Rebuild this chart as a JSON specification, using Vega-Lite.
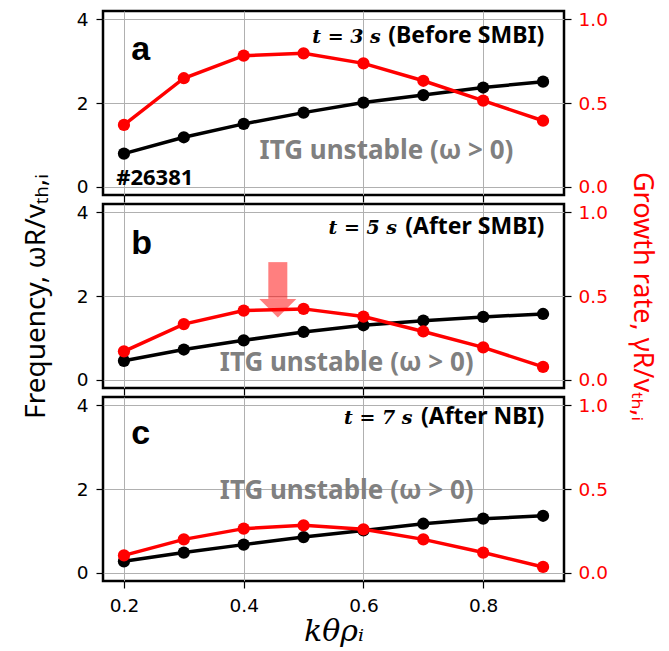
{
  "$schema": "https://vega.github.io/schema/vega-lite/v6.json",
  "padding": {"left": 20, "top": 9, "right": 5, "bottom": 5},
  "spacing": 9,
  "bounds": "flush",
  "datasets": {
    "lines": [
      {"panel": "a", "k": 0.2, "freq": 0.79, "growth": 0.369},
      {"panel": "a", "k": 0.3, "freq": 1.18, "growth": 0.648},
      {"panel": "a", "k": 0.4, "freq": 1.50, "growth": 0.783},
      {"panel": "a", "k": 0.5, "freq": 1.77, "growth": 0.797},
      {"panel": "a", "k": 0.6, "freq": 2.01, "growth": 0.737},
      {"panel": "a", "k": 0.7, "freq": 2.19, "growth": 0.633},
      {"panel": "a", "k": 0.8, "freq": 2.37, "growth": 0.514},
      {"panel": "a", "k": 0.9, "freq": 2.51, "growth": 0.394},
      {"panel": "b", "k": 0.2, "freq": 0.45, "growth": 0.169},
      {"panel": "b", "k": 0.3, "freq": 0.72, "growth": 0.332},
      {"panel": "b", "k": 0.4, "freq": 0.94, "growth": 0.413},
      {"panel": "b", "k": 0.5, "freq": 1.14, "growth": 0.423},
      {"panel": "b", "k": 0.6, "freq": 1.30, "growth": 0.377},
      {"panel": "b", "k": 0.7, "freq": 1.41, "growth": 0.288},
      {"panel": "b", "k": 0.8, "freq": 1.50, "growth": 0.193},
      {"panel": "b", "k": 0.9, "freq": 1.57, "growth": 0.076},
      {"panel": "c", "k": 0.2, "freq": 0.27, "growth": 0.103},
      {"panel": "c", "k": 0.3, "freq": 0.48, "growth": 0.199},
      {"panel": "c", "k": 0.4, "freq": 0.67, "growth": 0.263},
      {"panel": "c", "k": 0.5, "freq": 0.85, "growth": 0.283},
      {"panel": "c", "k": 0.6, "freq": 1.01, "growth": 0.259},
      {"panel": "c", "k": 0.7, "freq": 1.17, "growth": 0.199},
      {"panel": "c", "k": 0.8, "freq": 1.29, "growth": 0.120},
      {"panel": "c", "k": 0.9, "freq": 1.36, "growth": 0.034}
    ]
  },
  "vconcat": [
    {
      "width": 461, "height": 184,
      "data": {"name": "lines"},
      "encoding": {
        "x": {"field": "k", "type": "quantitative", "scale": {"domain": [0.165, 0.935], "nice": false, "zero": false},
              "axis": {"values": [0.2, 0.4, 0.6, 0.8], "labels": false, "title": null, "grid": true}}
      },
      "layer": [
        {
          "encoding": {"y": {"field": "freq", "type": "quantitative", "scale": {"domain": [-0.2, 4.2], "nice": false, "zero": false},
                             "axis": {"values": [0, 2, 4], "grid": true, "title": null, "orient": "left", "labelPadding": 8}}},
          "layer": [
            {"transform": [{"filter": "datum.panel === 'a'"}],
             "mark": {"type": "line", "color": "black", "strokeWidth": 3.5, "point": {"filled": true, "size": 150, "color": "black"}}},
            {"data": {"values": [{"k": 0.212, "freq": 3.03, "label": "a"}]},
             "mark": {"type": "text", "font": "Liberation Sans", "fontWeight": "bold", "fontSize": 34, "align": "left", "baseline": "alphabetic", "color": "black"},
             "encoding": {"text": {"field": "label"}}},
            {"data": {"values": [{"k": 0.629, "freq": 3.43, "label": "t = 3 s"}]},
             "mark": {"type": "text", "font": "DejaVu Serif", "fontWeight": "bold", "fontStyle": "italic", "fontSize": 19, "align": "right", "baseline": "alphabetic", "color": "black"},
             "encoding": {"text": {"field": "label"}}},
            {"data": {"values": [{"k": 0.902, "freq": 3.43, "label": "(Before SMBI)"}]},
             "mark": {"type": "text", "font": "Noto Sans", "fontWeight": "bold", "fontSize": 23, "align": "right", "baseline": "alphabetic", "color": "black"},
             "encoding": {"text": {"field": "label"}}},
            {"data": {"values": [{"k": 0.6385, "freq": 0.66, "label": "ITG unstable (ω > 0)"}]},
             "mark": {"type": "text", "font": "Noto Sans", "fontWeight": "bold", "fontSize": 26, "align": "center", "baseline": "alphabetic", "color": "#808080"},
             "encoding": {"text": {"field": "label"}}},
            {"data": {"values": [{"k": 0.187, "freq": 0.04, "label": "#26381"}]},
             "mark": {"type": "text", "font": "Noto Sans", "fontWeight": "bold", "fontSize": 22, "align": "left", "baseline": "alphabetic", "color": "black"},
             "encoding": {"text": {"field": "label"}}}
          ]
        },
        {
          "transform": [{"filter": "datum.panel === 'a'"}],
          "mark": {"type": "line", "color": "red", "strokeWidth": 3.5, "point": {"filled": true, "size": 150, "color": "red"}},
          "encoding": {"y": {"field": "growth", "type": "quantitative", "scale": {"domain": [-0.05, 1.05], "nice": false, "zero": false},
                             "axis": {"values": [0, 0.5, 1], "format": ".1f", "grid": false, "title": null, "orient": "right", "labelColor": "red", "labelPadding": 7}}}
        }
      ],
      "resolve": {"scale": {"y": "independent"}}
    },
    {
      "width": 461, "height": 184,
      "data": {"name": "lines"},
      "encoding": {
        "x": {"field": "k", "type": "quantitative", "scale": {"domain": [0.165, 0.935], "nice": false, "zero": false},
              "axis": {"values": [0.2, 0.4, 0.6, 0.8], "labels": false, "title": null, "grid": true}}
      },
      "layer": [
        {
          "encoding": {"y": {"field": "freq", "type": "quantitative", "scale": {"domain": [-0.2, 4.2], "nice": false, "zero": false},
                             "axis": {"values": [0, 2, 4], "grid": true, "title": "Frequency, ωR/vₜₕ,ᵢ", "titlePadding": 26, "orient": "left", "labelPadding": 8}}},
          "layer": [
            {"transform": [{"filter": "datum.panel === 'b'"}],
             "mark": {"type": "line", "color": "black", "strokeWidth": 3.5, "point": {"filled": true, "size": 150, "color": "black"}}},
            {"data": {"values": [{"k": 0.212, "freq": 3.0, "label": "b"}]},
             "mark": {"type": "text", "font": "Liberation Sans", "fontWeight": "bold", "fontSize": 34, "align": "left", "baseline": "alphabetic", "color": "black"},
             "encoding": {"text": {"field": "label"}}},
            {"data": {"values": [{"k": 0.656, "freq": 3.48, "label": "t = 5 s"}]},
             "mark": {"type": "text", "font": "DejaVu Serif", "fontWeight": "bold", "fontStyle": "italic", "fontSize": 19, "align": "right", "baseline": "alphabetic", "color": "black"},
             "encoding": {"text": {"field": "label"}}},
            {"data": {"values": [{"k": 0.902, "freq": 3.48, "label": "(After SMBI)"}]},
             "mark": {"type": "text", "font": "Noto Sans", "fontWeight": "bold", "fontSize": 23, "align": "right", "baseline": "alphabetic", "color": "black"},
             "encoding": {"text": {"field": "label"}}},
            {"data": {"values": [{"k": 0.572, "freq": 0.207, "label": "ITG unstable (ω > 0)"}]},
             "mark": {"type": "text", "font": "Noto Sans", "fontWeight": "bold", "fontSize": 26, "align": "center", "baseline": "alphabetic", "color": "#808080"},
             "encoding": {"text": {"field": "label"}}}
          ]
        },
        {
          "transform": [{"filter": "datum.panel === 'b'"}],
          "mark": {"type": "line", "color": "red", "strokeWidth": 3.5, "point": {"filled": true, "size": 150, "color": "red"}},
          "encoding": {"y": {"field": "growth", "type": "quantitative", "scale": {"domain": [-0.05, 1.05], "nice": false, "zero": false},
                             "axis": {"values": [0, 0.5, 1], "format": ".1f", "grid": false, "title": "Growth rate, γR/vₜₕ,ᵢ", "titleColor": "red", "titleFontSize": 27, "titlePadding": 20, "orient": "right", "labelColor": "red", "labelPadding": 7}}}
        },
        {
          "encoding": {"y": {"field": "freq", "type": "quantitative", "scale": {"domain": [-0.2, 4.2], "nice": false, "zero": false}, "axis": null}},
          "layer": [
            {"data": {"values": [{"k": 0.457, "freq": 2.81, "freq2": 1.93}]},
             "mark": {"type": "rule", "color": "red", "opacity": 0.5, "strokeWidth": 19, "strokeCap": "butt"},
             "encoding": {"y2": {"field": "freq2"}}},
            {"data": {"values": [{"k": 0.457, "freq": 1.71}]},
             "mark": {"type": "point", "shape": "M-1,-0.5L1,-0.5L0,0.5Z", "size": 1369, "filled": true, "color": "red", "opacity": 0.5, "strokeWidth": 0}}
          ]
        }
      ],
      "resolve": {"scale": {"y": "independent"}}
    },
    {
      "width": 461, "height": 184,
      "data": {"name": "lines"},
      "encoding": {
        "x": {"field": "k", "type": "quantitative", "scale": {"domain": [0.165, 0.935], "nice": false, "zero": false},
              "axis": {"values": [0.2, 0.4, 0.6, 0.8], "format": ".1f", "labels": true, "labelPadding": 8, "title": "kθρᵢ", "titleFont": "DejaVu Serif", "titleFontStyle": "italic", "titleFontSize": 30, "titlePadding": 2, "grid": true}}
      },
      "layer": [
        {
          "encoding": {"y": {"field": "freq", "type": "quantitative", "scale": {"domain": [-0.2, 4.2], "nice": false, "zero": false},
                             "axis": {"values": [0, 2, 4], "grid": true, "title": null, "orient": "left", "labelPadding": 8}}},
          "layer": [
            {"transform": [{"filter": "datum.panel === 'c'"}],
             "mark": {"type": "line", "color": "black", "strokeWidth": 3.5, "point": {"filled": true, "size": 150, "color": "black"}}},
            {"data": {"values": [{"k": 0.212, "freq": 3.08, "label": "c"}]},
             "mark": {"type": "text", "font": "Liberation Sans", "fontWeight": "bold", "fontSize": 34, "align": "left", "baseline": "alphabetic", "color": "black"},
             "encoding": {"text": {"field": "label"}}},
            {"data": {"values": [{"k": 0.682, "freq": 3.55, "label": "t = 7 s"}]},
             "mark": {"type": "text", "font": "DejaVu Serif", "fontWeight": "bold", "fontStyle": "italic", "fontSize": 19, "align": "right", "baseline": "alphabetic", "color": "black"},
             "encoding": {"text": {"field": "label"}}},
            {"data": {"values": [{"k": 0.902, "freq": 3.55, "label": "(After NBI)"}]},
             "mark": {"type": "text", "font": "Noto Sans", "fontWeight": "bold", "fontSize": 23, "align": "right", "baseline": "alphabetic", "color": "black"},
             "encoding": {"text": {"field": "label"}}},
            {"data": {"values": [{"k": 0.572, "freq": 1.76, "label": "ITG unstable (ω > 0)"}]},
             "mark": {"type": "text", "font": "Noto Sans", "fontWeight": "bold", "fontSize": 26, "align": "center", "baseline": "alphabetic", "color": "#808080"},
             "encoding": {"text": {"field": "label"}}}
          ]
        },
        {
          "transform": [{"filter": "datum.panel === 'c'"}],
          "mark": {"type": "line", "color": "red", "strokeWidth": 3.5, "point": {"filled": true, "size": 150, "color": "red"}},
          "encoding": {"y": {"field": "growth", "type": "quantitative", "scale": {"domain": [-0.05, 1.05], "nice": false, "zero": false},
                             "axis": {"values": [0, 0.5, 1], "format": ".1f", "grid": false, "title": null, "orient": "right", "labelColor": "red", "labelPadding": 7}}}
        }
      ],
      "resolve": {"scale": {"y": "independent"}}
    }
  ],
  "config": {
    "view": {"stroke": "black", "strokeWidth": 2.5},
    "axis": {
      "labelFont": "DejaVu Sans", "labelFontSize": 18.5, "labelColor": "black",
      "tickColor": "black", "tickSize": 7, "tickWidth": 1.2, "domain": false,
      "gridColor": "#b0b0b0", "gridWidth": 1, "gridOpacity": 1,
      "titleFont": "Noto Sans", "titleFontSize": 28, "titleFontWeight": "normal", "titleColor": "black"
    }
  }
}
